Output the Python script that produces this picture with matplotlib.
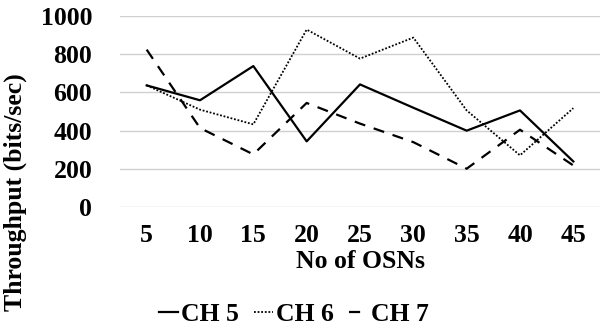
import matplotlib.pyplot as plt
import numpy as np

# data
osns = ["5", "10", "15", "20", "25", "30", "35", "40", "45"]
ch5 = [637, 559, 738, 344, 642, 520, 400, 506, 239]
ch6 = [637, 510, 433, 929, 777, 887, 506, 271, 518]
ch7 = [824, 414, 276, 545, 437, 340, 201, 405, 218]

plt.rcParams["font.family"] = "Liberation Serif"
plt.rcParams["font.weight"] = "bold"
fs = 18.5

fig = plt.figure(figsize=(6, 3.33), dpi=100)
ax = fig.add_axes([0.2, 0.378, 0.8, 0.574])

x = np.arange(len(osns))
ax.plot(x, ch5, color="black", lw=1.6, ls="-", label="CH 5")
ax.plot(x, ch6, color="black", lw=1.3, ls=(0, (1, 1)), label="CH 6")
ax.plot(x, ch7, color="black", lw=1.6, ls=(0, (5, 4)), label="CH 7")

ax.set_xlim(-0.5, len(osns) - 0.5)
ax.set_ylim(0, 1000)
ax.set_yticks(range(0, 1001, 200))
ax.set_xticks(x)
ax.set_xticklabels(osns)
ax.tick_params(length=0, labelsize=fs)
ax.tick_params(axis="x", pad=12)
ax.tick_params(axis="y", pad=20)
ax.yaxis.grid(True, color="#d0d0d0", lw=1)
ax.set_axisbelow(True)
for s in ax.spines.values():
    s.set_visible(False)

ax.set_xlabel("No of OSNs", fontsize=fs, fontweight="bold", labelpad=2)
fig.text(0.025, 0.423, "Throughput (bits/sec)", rotation=90, fontsize=fs,
         fontweight="bold", ha="center", va="center")

fig.legend(loc="center", bbox_to_anchor=(0.49, 0.057), ncol=3, frameon=False,
           fontsize=fs, handlelength=0.75, handletextpad=0.1, columnspacing=0.6,
           borderpad=0)

fig.savefig("out.png", dpi=100)
